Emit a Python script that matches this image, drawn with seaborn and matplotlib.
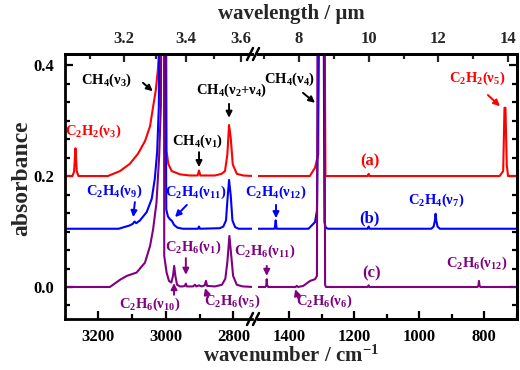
import numpy as np
import matplotlib
matplotlib.use("Agg")
import matplotlib.pyplot as plt
import seaborn as sns
from matplotlib.lines import Line2D
from matplotlib.ticker import MultipleLocator, AutoMinorLocator

# spectra: wavenumber (cm-1), absorbance above each trace's own baseline
red_wn = [3300, 3277, 3272, 3269.5, 3268, 3266.5, 3264, 3259, 3172, 3136, 3107, 3083, 3062,
          3047, 3039, 3030, 3024, 3021, 3020, 3000.5, 2998, 2993, 2983, 2958, 2929, 2906,
          2902, 2898, 2855, 2835, 2825, 2818, 2813, 2808, 2802, 2790, 2771, 2740,
          1500, 1336, 1320, 1310, 1308, 1292, 1288, 1158, 1155, 1152,
          752, 741, 737, 734, 730, 726, 695]
red_abs = [0, 0, 0.008, 0.035, 0.05, 0.035, 0.008, 0, 0, 0.009, 0.022, 0.040, 0.063,
           0.090, 0.121, 0.155, 0.191, 0.22, 0.5, 0.5, 0.045, 0.022, 0.009, 0.003, 0.001, 0.001,
           0.010, 0.001, 0.001, 0.004, 0.009, 0.039, 0.092, 0.069, 0.021, 0.004, 0.001, 0,
           0, 0, 0.015, 0.039, 0.5, 0.5, 0, 0, 0.004, 0,
           0, 0.009, 0.123, 0.123, 0.02, 0, 0]

blue_wn = [3300, 3140, 3107, 3098, 3093, 3088, 3077, 3057, 3042, 3033, 3026, 3021, 3018,
           3002.5, 2999, 2994, 2988, 2982, 2976, 2966, 2950, 2905, 2902, 2899, 2840, 2830,
           2822, 2818, 2813, 2808, 2803, 2795, 2785, 2740,
           1500, 1444, 1441, 1438, 1340, 1335, 1320, 1314, 1305, 1294, 1291, 1287, 1280,
           1158, 1155, 1152, 962, 955, 951, 949, 947, 943, 936, 695]
blue_abs = [0, 0, 0.006, 0.009, 0.013, 0.010, 0.015, 0.030, 0.054, 0.090, 0.138, 0.221, 0.5,
            0.5, 0.035, 0.022, 0.017, 0.014, 0.007, 0.002, 0, 0, 0.004, 0, 0.001, 0.004,
            0.015, 0.050, 0.088, 0.060, 0.015, 0.003, 0, 0,
            0, 0, 0.015, 0, 0, 0.003, 0.012, 0.033, 0.5, 0.5, 0.012, 0.002, 0,
            0, 0.004, 0, 0, 0.004, 0.015, 0.027, 0.015, 0.004, 0, 0]

purple_wn = [3300, 3166, 3136, 3116, 3087, 3062, 3047, 3038, 3028, 3020, 3015, 3013, 3006,
             3005, 2998, 2991, 2984, 2979, 2975.5, 2972, 2967, 2958, 2950, 2944, 2941, 2938,
             2920, 2914, 2910, 2902, 2894, 2885, 2881.5, 2878, 2855, 2834, 2824, 2818, 2812,
             2807, 2801, 2790, 2772, 2740,
             1500, 1473, 1470, 1468.5, 1467, 1464, 1380, 1376, 1372, 1356, 1335, 1320, 1314,
             1312, 1291, 1289, 1286, 1158, 1155, 1152, 820, 817, 815.5, 814, 811, 695]
purple_abs = [0, 0, 0.013, 0.020, 0.026, 0.044, 0.074, 0.104, 0.152, 0.236, 0.326, 0.6, 0.6,
              0.056, 0.026, 0.011, 0.008, 0.020, 0.038, 0.020, 0.004, 0.001, 0.001, 0.002, 0.006, 0.001,
              0.001, 0.004, 0.001, 0.003, 0.001, 0.003, 0.011, 0.002, 0.001, 0.004, 0.015, 0.045, 0.092,
              0.060, 0.020, 0.004, 0.001, 0,
              0, 0, 0.003, 0.014, 0.003, 0, 0, 0.002, 0, 0.002, 0.011, 0.014, 0.02,
              0.6, 0.6, 0.004, 0, 0, 0.003, 0, 0, 0.003, 0.011, 0.003, 0, 0]

trace_offsets = [0.2, 0.105, 0.0]
trace_colors = ["#FF0000", "#0000FF", "#800080"]

sns.set_theme(style="ticks")
plt.rcParams["font.family"] = ["Liberation Serif", "DejaVu Serif"]
plt.rcParams["font.weight"] = "bold"
plt.rcParams["mathtext.fontset"] = "custom"
plt.rcParams["mathtext.rm"] = "Liberation Serif:bold"
plt.rcParams["mathtext.it"] = "Liberation Serif:bold"
plt.rcParams["mathtext.bf"] = "Liberation Serif:bold"
plt.rcParams["mathtext.default"] = "rm"

W, H = 520, 370
fig = plt.figure(figsize=(W / 100, H / 100), dpi=100)


def box(x0, x1, y0, y1):
    # image pixels -> figure fraction
    return [x0 / W, 1 - y1 / H, (x1 - x0) / W, (y1 - y0) / H]


ax_l = fig.add_axes(box(65, 252, 54, 319))
ax_r = fig.add_axes(box(258, 517, 54, 319))
ax_r.patch.set_visible(False)  # so labels from the left panel are not covered

spectra = [(red_wn, red_abs), (blue_wn, blue_abs), (purple_wn, purple_abs)]
for ax in (ax_l, ax_r):
    for (wn, ab), off, col in zip(spectra, trace_offsets, trace_colors):
        sns.lineplot(x=wn, y=np.array(ab) + off, ax=ax, color=col, lw=1.5,
                     estimator=None, sort=False)
    ax.set_ylim(-0.0577, 0.42)
    ax.set_xlabel("")
    ax.set_ylabel("")
    ax.yaxis.set_major_locator(MultipleLocator(0.2))
    ax.yaxis.set_minor_locator(AutoMinorLocator(6))
    ax.xaxis.set_major_locator(MultipleLocator(200))
    ax.xaxis.set_minor_locator(MultipleLocator(100))
    ax.tick_params(which="both", direction="in", width=1.6, colors="black",
                   labelsize=12, top=False)
    ax.tick_params(which="major", length=6)
    ax.tick_params(which="minor", length=3.5)
    ax.tick_params(axis="x", pad=7)
    for s in ax.spines.values():
        s.set_linewidth(2)
        s.set_color("black")

ax_l.set_xlim(3299, 2745)
ax_r.set_xlim(1495.4, 698.5)
ax_l.spines["right"].set_visible(False)
ax_r.spines["left"].set_visible(False)
ax_l.tick_params(axis="y", which="both", left=True, right=False, pad=8)
ax_r.tick_params(axis="y", which="both", left=False, right=True, labelleft=False)
ax_l.yaxis.set_major_formatter(matplotlib.ticker.FormatStrFormatter("%.1f"))

# top axis: wavelength
top_l = ax_l.secondary_xaxis("top", functions=(lambda x: 1e4 / np.asarray(x, float),
                                               lambda x: 1e4 / np.asarray(x, float)))
top_l.set_xticks([3.2, 3.4, 3.6])
top_l.set_xticks([3.1, 3.3, 3.5], minor=True)
top_r = ax_r.twiny()
top_r.set_xlim(6.823, 14.258)
top_r.xaxis.set_major_locator(MultipleLocator(2))
top_r.xaxis.set_minor_locator(MultipleLocator(1))
for t in (top_l, top_r):
    t.tick_params(which="both", direction="in", width=1.6, labelsize=12, pad=5)
    t.tick_params(which="major", length=6)
    t.tick_params(which="minor", length=3.5)
    for s in t.spines.values():
        s.set_linewidth(2)
        s.set_color("black")
top_r.spines["left"].set_visible(False)

# axis break marks
for xc in (250, 256):
    for yc in (54, 319):
        fig.add_artist(Line2D([(xc - 3) / W, (xc + 3) / W], [1 - (yc + 6) / H, 1 - (yc - 6) / H],
                              color="black", lw=1.8, transform=fig.transFigure))

fig.text(291 / W, 1 - 14 / H, "wavelength / µm", ha="center", va="center", fontsize=15,
         fontweight="bold")
fig.text(291 / W, 1 - 356 / H, "wavenumber / cm$^{-1}$", ha="center", va="center", fontsize=15,
         fontweight="bold")
fig.text(22 / W, 1 - 178 / H, "absorbance", rotation=90, ha="center", va="center", fontsize=17,
         fontweight="bold")


def note(ax, s, x, y, color, size=10.5):
    ax.text(x, y, s, color=color, ha="center", va="center", fontsize=size, fontweight="bold")


def arrow(ax, tail, head, color):
    ax.annotate("", xy=head, xytext=tail,
                arrowprops=dict(arrowstyle="-|>", color=color, lw=1.4, mutation_scale=9,
                                shrinkA=0, shrinkB=0))


k, r, b, p = "black", trace_colors[0], trace_colors[1], trace_colors[2]

note(ax_l, r"CH$_4$($\nu_3$)", 3175, 0.373, k)
arrow(ax_l, (3068, 0.368), (3039, 0.353), k)
note(ax_l, r"CH$_4$($\nu_2$+$\nu_4$)", 2804, 0.355, k)
arrow(ax_l, (2813, 0.330), (2813, 0.305), k)
note(ax_l, r"CH$_4$($\nu_1$)", 2908, 0.263, k)
arrow(ax_l, (2902, 0.243), (2902, 0.216), k)
note(ax_l, r"C$_2$H$_2$($\nu_3$)", 3216, 0.281, r)
note(ax_l, r"C$_2$H$_4$($\nu_9$)", 3154, 0.173, b)
arrow(ax_l, (3092, 0.153), (3097, 0.126), b)
note(ax_l, r"C$_2$H$_4$($\nu_{11}$)", 2911, 0.171, b)
arrow(ax_l, (2938, 0.148), (2973, 0.126), b)
note(ax_l, r"C$_2$H$_6$($\nu_1$)", 2920, 0.072, p)
arrow(ax_l, (2941, 0.052), (2941, 0.022), p)
note(ax_l, r"C$_2$H$_6$($\nu_{10}$)", 3047, -0.031, p)
arrow(ax_l, (2976, -0.014), (2976, 0.007), p)
note(ax_l, r"C$_2$H$_6$($\nu_5$)", 2804, -0.025, p)
arrow(ax_l, (2876, -0.018), (2884, -0.002), p)

note(ax_r, r"CH$_4$($\nu_4$)", 1400, 0.375, k)
arrow(ax_r, (1357, 0.350), (1320, 0.332), k)
note(ax_r, r"C$_2$H$_2$($\nu_5$)", 821, 0.377, r)
arrow(ax_r, (788, 0.346), (751, 0.326), r)
note(ax_r, "(a)", 1151, 0.227, r, 12)
note(ax_r, r"C$_2$H$_4$($\nu_{12}$)", 1440, 0.171, b)
arrow(ax_r, (1440, 0.148), (1440, 0.124), b)
note(ax_r, r"C$_2$H$_4$($\nu_7$)", 948, 0.157, b)
note(ax_r, "(b)", 1151, 0.124, b, 12)
note(ax_r, r"C$_2$H$_6$($\nu_{11}$)", 1474, 0.065, p)
arrow(ax_r, (1468.5, 0.038), (1468.5, 0.020), p)
note(ax_r, r"C$_2$H$_6$($\nu_6$)", 1292, -0.025, p)
arrow(ax_r, (1372, -0.020), (1381, -0.004), p)
note(ax_r, r"C$_2$H$_6$($\nu_{12}$)", 821, 0.043, p)
note(ax_r, "(c)", 1145, 0.025, p, 12)

fig.savefig("out.png", dpi=100)
